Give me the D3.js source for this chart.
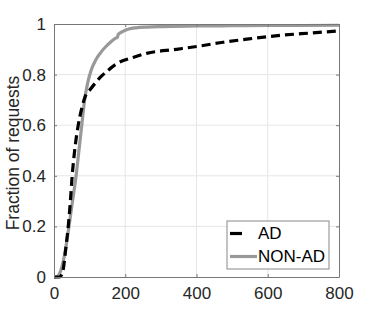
<!DOCTYPE html>
<html>
<head>
<meta charset="utf-8">
<script src="https://cdn.jsdelivr.net/npm/d3@7"></script>
<style>
  body { margin: 0; background: #fff; }
  svg { font-family: "Liberation Sans", Arial, sans-serif; }
</style>
</head>
<body>
<svg width="374" height="312"></svg>
<script>
// AD curve (request size vs fraction)
const adX = [0, 15, 22, 27, 32, 40, 46, 51, 58, 68, 78, 88, 101, 115, 129, 150, 176, 222, 260, 344, 410, 475, 541, 634, 727, 800]
const adY = [0, 0, 0.01, 0.04, 0.1, 0.2, 0.3, 0.4, 0.5, 0.6, 0.667, 0.715, 0.74, 0.765, 0.788, 0.815, 0.843, 0.868, 0.884, 0.9, 0.913, 0.928, 0.94, 0.955, 0.965, 0.973]
// NON-AD curve
const nonAdX = [0, 5, 12, 20, 30, 42, 52, 62, 70, 78, 86, 95, 105, 118, 130, 145, 160, 172, 178, 180, 186, 195, 210, 230, 260, 300, 400, 500, 600, 700, 800]
const nonAdY = [0, 0, 0.005, 0.03, 0.09, 0.2, 0.3, 0.4, 0.5, 0.6, 0.7, 0.77, 0.82, 0.86, 0.885, 0.91, 0.93, 0.943, 0.947, 0.958, 0.965, 0.972, 0.98, 0.985, 0.988, 0.99, 0.992, 0.993, 0.994, 0.994, 0.995]
const xTicks = [0, 200, 400, 600, 800]
const yTicks = [0, 0.2, 0.4, 0.6, 0.8, 1]
const seriesNames = ['AD', 'NON-AD']

const svg = d3.select('svg')
const margin = {top: 24, right: 35, bottom: 35, left: 54}
const width = 374 - margin.left - margin.right
const height = 312 - margin.top - margin.bottom
const group = svg.append('g')
  .attr('transform', 'translate(' + margin.left + ',' + margin.top + ')')

const x = d3.scaleLinear().domain([0, 800]).range([0, width])
const y = d3.scaleLinear().domain([0, 1]).range([height, 0])

// grid
group.append('g').selectAll('line').data(xTicks.slice(1, -1)).join('line')
  .attr('x1', d => x(d)).attr('x2', d => x(d))
  .attr('y1', 0).attr('y2', height)
  .attr('stroke', '#e6e6e6')
group.append('g').selectAll('line').data(yTicks.slice(1, -1)).join('line')
  .attr('y1', d => y(d)).attr('y2', d => y(d))
  .attr('x1', 0).attr('x2', width)
  .attr('stroke', '#e6e6e6')

// curves
const line = d3.line()
  .x(d => x(d[0]))
  .y(d => y(d[1]))
  .curve(d3.curveMonotoneX)
const nonAd = nonAdX.map((v, i) => [v, nonAdY[i]])
const ad = adX.map((v, i) => [v, adY[i]])

group.append('path').datum(nonAd)
  .attr('d', line)
  .attr('fill', 'none')
  .attr('stroke', '#999')
  .attr('stroke-width', 3.2)
group.append('path').datum(ad)
  .attr('d', line)
  .attr('fill', 'none')
  .attr('stroke', '#000')
  .attr('stroke-width', 3.2)
  .attr('stroke-dasharray', '9,5')

// axes, ticks inward like matlab
const axisColor = '#777'
const xAxis = group.append('g')
  .attr('transform', 'translate(0,' + height + ')')
  .call(d3.axisBottom(x).tickValues(xTicks).tickSizeInner(-3).tickSizeOuter(0).tickPadding(10))
const yAxis = group.append('g')
  .call(d3.axisLeft(y).tickValues(yTicks).tickFormat(d3.format('~g')).tickSizeInner(-3).tickSizeOuter(0).tickPadding(8))
const xTop = group.append('g')
  .call(d3.axisTop(x).tickValues(xTicks).tickSizeInner(-3).tickSizeOuter(0).tickFormat(''))
const yRight = group.append('g')
  .attr('transform', 'translate(' + width + ',0)')
  .call(d3.axisRight(y).tickValues(yTicks).tickSizeInner(-3).tickSizeOuter(0).tickFormat(''))

for (const a of [xAxis, yAxis, xTop, yRight]) {
  a.selectAll('.domain').attr('stroke', axisColor)
  a.selectAll('.tick line').attr('stroke', axisColor)
  a.selectAll('.tick text')
    .attr('fill', '#262626')
    .style('font-size', '17px')
    .style('font-family', '"Liberation Sans", Arial, sans-serif')
}

// y label
svg.append('text')
  .attr('transform', 'translate(13,153) rotate(-90)')
  .attr('text-anchor', 'middle')
  .attr('dy', '0.35em')
  .attr('fill', '#262626')
  .style('font-size', '17.5px')
  .text('Fraction of requests')

// legend
const legend = group.append('g')
  .attr('transform', 'translate(' + (227 - margin.left) + ',' + (221 - margin.top) + ')')
legend.append('rect')
  .attr('width', 102).attr('height', 48)
  .attr('fill', '#fff')
  .attr('stroke', '#888')
const entries = legend.selectAll('g.entry').data(seriesNames).join('g')
  .attr('class', 'entry')
  .attr('transform', (d, i) => 'translate(0,' + (12.5 + i * 23) + ')')
entries.append('line')
  .attr('x1', 3).attr('x2', 30)
  .attr('stroke', (d, i) => i === 0 ? '#000' : '#999')
  .attr('stroke-width', 3.2)
  .attr('stroke-dasharray', (d, i) => i === 0 ? '12,30' : null)
entries.append('text')
  .attr('x', 31)
  .attr('dy', '0.35em')
  .attr('fill', '#000')
  .style('font-size', '17px')
  .text(d => d)
</script>
</body>
</html>
